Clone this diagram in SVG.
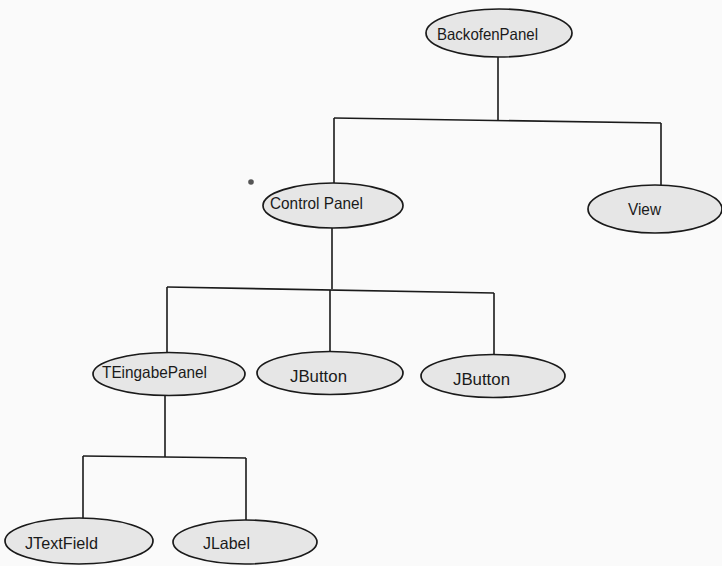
<svg xmlns="http://www.w3.org/2000/svg" width="722" height="566" viewBox="0 0 722 566">
<style>
.n ellipse{fill:#e6e6e6;stroke:#1a1a1a;stroke-width:1.7}
.n text{font-family:"Liberation Sans",Arial,sans-serif;font-size:16.5px;fill:#1a1a1a}
.c line{stroke:#1a1a1a;stroke-width:1.6;fill:none}
</style>
<rect width="722" height="566" fill="#fafafa"/>
<g class="c" id="connectors">
<line x1="498" y1="57" x2="498" y2="120"/>
<line x1="334" y1="118" x2="661" y2="123"/>
<line x1="334" y1="118" x2="334" y2="183"/>
<line x1="661" y1="123" x2="661" y2="185"/>
<line x1="332" y1="228" x2="332" y2="289"/>
<line x1="167" y1="287" x2="494" y2="293"/>
<line x1="167" y1="287" x2="167" y2="353"/>
<line x1="330" y1="290" x2="330" y2="352"/>
<line x1="494" y1="293" x2="494" y2="355"/>
<line x1="165" y1="395" x2="165" y2="457"/>
<line x1="83" y1="456" x2="246" y2="458"/>
<line x1="83" y1="456" x2="83" y2="519"/>
<line x1="246" y1="458" x2="246" y2="520"/>
</g>
<circle cx="251" cy="182" r="2.8" fill="#555"/>
<g class="n" id="BackofenPanel"><ellipse cx="499" cy="33" rx="73" ry="24"/><text x="437" y="40" textLength="101" lengthAdjust="spacingAndGlyphs">BackofenPanel</text></g>
<g class="n" id="ControlPanel"><ellipse cx="333" cy="205.5" rx="70" ry="22.5"/><text x="270" y="209" textLength="93" lengthAdjust="spacingAndGlyphs">Control Panel</text></g>
<g class="n" id="View"><ellipse cx="655" cy="209" rx="67" ry="24"/><text x="628" y="215" textLength="33" lengthAdjust="spacingAndGlyphs">View</text></g>
<g class="n" id="TEingabePanel"><ellipse cx="169" cy="374" rx="76" ry="21.5"/><text x="102" y="378" textLength="105" lengthAdjust="spacingAndGlyphs">TEingabePanel</text></g>
<g class="n" id="JButton1"><ellipse cx="330" cy="373" rx="73" ry="21.5"/><text x="290" y="382" textLength="57" lengthAdjust="spacingAndGlyphs">JButton</text></g>
<g class="n" id="JButton2"><ellipse cx="493" cy="376" rx="72" ry="21.5"/><text x="453" y="385" textLength="57" lengthAdjust="spacingAndGlyphs">JButton</text></g>
<g class="n" id="JTextField"><ellipse cx="79" cy="541" rx="74" ry="23"/><text x="25" y="549" textLength="73" lengthAdjust="spacingAndGlyphs">JTextField</text></g>
<g class="n" id="JLabel"><ellipse cx="245" cy="542" rx="72" ry="22"/><text x="203" y="549" textLength="47" lengthAdjust="spacingAndGlyphs">JLabel</text></g>
</svg>
